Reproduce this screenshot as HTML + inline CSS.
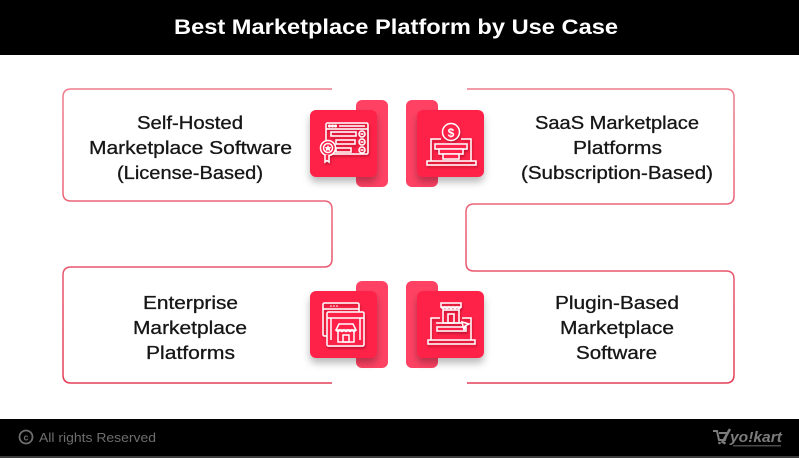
<!DOCTYPE html>
<html><head><meta charset="utf-8"><style>
html,body{margin:0;padding:0;background:#fff;}
svg{display:block;}
</style></head><body>
<svg width="799" height="458" viewBox="0 0 799 458" xmlns="http://www.w3.org/2000/svg">
<defs>
<filter id="sh" x="-30%" y="-30%" width="160%" height="170%">
<feDropShadow dx="0" dy="5" stdDeviation="4" flood-color="#000" flood-opacity="0.28"/>
</filter>
<filter id="ish" x="-30%" y="-30%" width="160%" height="160%">
<feDropShadow dx="1" dy="2" stdDeviation="1" flood-color="#7a0018" flood-opacity="0.45"/>
</filter>
<linearGradient id="lg" x1="0" y1="0" x2="0" y2="1">
<stop offset="0" stop-color="#ee7c8c"/>
<stop offset="1" stop-color="#e43e58"/>
</linearGradient>
</defs>
<rect x="0" y="0" width="799" height="458" fill="#fff"/>
<!-- header -->
<rect x="0" y="0" width="799" height="55" fill="#000"/>
<text x="396" y="34" text-anchor="middle" font-family="Liberation Sans, sans-serif" font-size="21" font-weight="bold" fill="#fff" textLength="444" lengthAdjust="spacingAndGlyphs">Best Marketplace Platform by Use Case</text>

<!-- outlines -->
<path d="M332,89 H71 Q63,89 63,97 V193 Q63,201 71,201 H324 Q332,201 332,209 V259 Q332,267 324,267 H71 Q63,267 63,275 V375 Q63,383 71,383 H332" fill="none" stroke="url(#lg)" stroke-width="1.5"/>
<path d="M467,89 H726 Q734,89 734,97 V196 Q734,204 726,204 H474 Q466,204 466,212 V263 Q466,271 474,271 H726 Q734,271 734,279 V375 Q734,383 726,383 H467" fill="none" stroke="url(#lg)" stroke-width="1.5"/>

<!-- texts -->
<g font-family="Liberation Sans, sans-serif" font-size="18.5" fill="#161616" stroke="#161616" stroke-width="0.3" text-anchor="middle">
<text x="190" y="129" textLength="106" lengthAdjust="spacingAndGlyphs">Self-Hosted</text>
<text x="190.5" y="154" textLength="203" lengthAdjust="spacingAndGlyphs">Marketplace Software</text>
<text x="190" y="179" textLength="146" lengthAdjust="spacingAndGlyphs">(License-Based)</text>

<text x="617" y="129" textLength="164" lengthAdjust="spacingAndGlyphs">SaaS Marketplace</text>
<text x="617.5" y="154" textLength="89" lengthAdjust="spacingAndGlyphs">Platforms</text>
<text x="617" y="179" textLength="192" lengthAdjust="spacingAndGlyphs">(Subscription-Based)</text>

<text x="190.5" y="309" textLength="95" lengthAdjust="spacingAndGlyphs">Enterprise</text>
<text x="190" y="334" textLength="114" lengthAdjust="spacingAndGlyphs">Marketplace</text>
<text x="190.5" y="359" textLength="89" lengthAdjust="spacingAndGlyphs">Platforms</text>

<text x="617" y="309" textLength="124" lengthAdjust="spacingAndGlyphs">Plugin-Based</text>
<text x="617" y="334" textLength="114" lengthAdjust="spacingAndGlyphs">Marketplace</text>
<text x="616.5" y="359" textLength="81" lengthAdjust="spacingAndGlyphs">Software</text>
</g>

<!-- icon back rects -->
<rect x="356" y="100" width="32" height="87" rx="6" fill="#ff4264"/>
<rect x="406" y="100" width="32" height="87" rx="6" fill="#ff4264"/>
<rect x="356" y="281" width="32" height="87" rx="6" fill="#ff4264"/>
<rect x="406" y="281" width="32" height="87" rx="6" fill="#ff4264"/>
<!-- icon front squares -->
<rect x="310" y="110" width="67" height="67" rx="6" fill="#fe2149" filter="url(#sh)"/>
<rect x="417" y="110" width="67" height="67" rx="6" fill="#fe2149" filter="url(#sh)"/>
<rect x="310" y="291" width="67" height="67" rx="6" fill="#fe2149" filter="url(#sh)"/>
<rect x="417" y="291" width="67" height="67" rx="6" fill="#fe2149" filter="url(#sh)"/>

<!-- icon 1: self-hosted -->
<g fill="none" stroke="#fff" stroke-width="1.5" filter="url(#ish)">
<rect x="326" y="123" width="42" height="31" rx="1.5"/>
<line x1="326" y1="129" x2="368" y2="129"/>
<circle cx="329.5" cy="126" r="0.8" fill="#fff"/>
<circle cx="332.5" cy="126" r="0.8" fill="#fff"/>
<circle cx="335.5" cy="126" r="0.8" fill="#fff"/>
<line x1="339" y1="126" x2="365" y2="126"/>
<rect x="331" y="132" width="25" height="4"/>
<rect x="336" y="140" width="19" height="4"/>
<rect x="336" y="148" width="15" height="4"/>
<circle cx="362" cy="134" r="3"/><line x1="360.5" y1="134" x2="363.5" y2="134"/>
<circle cx="362" cy="142" r="3"/><line x1="360.5" y1="142" x2="363.5" y2="142"/>
<circle cx="362" cy="150" r="3"/><line x1="360.5" y1="150" x2="363.5" y2="150"/>
<circle cx="328" cy="148" r="7.5" fill="#fe2149"/>
<circle cx="328" cy="148" r="4.5"/>
<polygon points="328,145.5 329,147.3 331,147.5 329.5,148.8 330,150.8 328,149.7 326,150.8 326.5,148.8 325,147.5 327,147.3" fill="#fff" stroke-width="0.5"/>
<path d="M325,155 V162 L327,160.5 L329,162 V155" fill="#fe2149"/>
</g>

<!-- icon 2: SaaS -->
<g fill="none" stroke="#fff" stroke-width="1.5" filter="url(#ish)">
<path d="M441,139 H431 V161 M461,139 H471 V161"/>
<rect x="427" y="161" width="49" height="4"/>
<rect x="435" y="144" width="32" height="5" fill="#fe2149"/>
<rect x="439" y="149" width="24" height="5" fill="#fe2149"/>
<rect x="443" y="154" width="16" height="5" fill="#fe2149"/>
<circle cx="451" cy="132" r="8.5" fill="#fe2149"/>
</g>
<text x="451" y="137" text-anchor="middle" font-family="Liberation Sans, sans-serif" font-size="12" font-weight="bold" fill="#fff">$</text>

<!-- icon 3: enterprise -->
<g fill="none" stroke="#fff" stroke-width="1.5" filter="url(#ish)">
<rect x="323" y="303" width="36" height="33" rx="1.5"/>
<line x1="323" y1="309" x2="359" y2="309"/>
<rect x="327" y="312" width="37" height="34" rx="1.5" fill="#fe2149"/>
<line x1="327" y1="318" x2="364" y2="318"/>
<line x1="331" y1="318" x2="331" y2="340"/>
<line x1="360" y1="318" x2="360" y2="340"/>
<path d="M336,330 L339,324 H353 L356,330 Z"/>
<path d="M336,330 Q338,333 340,330 Q342,333 344,330 Q346,333 348,330 Q350,333 352,330 Q354,333 356,330"/>
<path d="M338,332 V342 H354 V332"/>
<rect x="343" y="335" width="6" height="7"/>
</g>
<g fill="#fff">
<circle cx="331" cy="306" r="0.8"/><circle cx="334" cy="306" r="0.8"/><circle cx="337" cy="306" r="0.8"/>
</g>

<!-- icon 4: plugin -->
<g fill="none" stroke="#fff" stroke-width="1.5" filter="url(#ish)">
<path d="M440,318 H431 V340 M462,318 H471 V340"/>
<rect x="428" y="340" width="47" height="4"/>
<rect x="441" y="303" width="20" height="4"/>
<path d="M441,307 Q443,310 445,307 Q447,310 449,307 Q451,310 453,307 Q455,310 457,307 Q459,310 461,307"/>
<rect x="443" y="310" width="16" height="13"/>
<rect x="448" y="314" width="6" height="9"/>
<rect x="437" y="327" width="29" height="4" fill="#fe2149"/>
<path d="M436,323 H466"/>
<polygon points="462,322 469,324 465,326 464,330" fill="#fe2149"/>
</g>

<!-- footer -->
<rect x="0" y="419" width="799" height="37" fill="#000"/>
<rect x="0" y="456" width="799" height="2" fill="#3c3c3c"/>
<circle cx="26" cy="437" r="6.5" fill="none" stroke="#6e6e6e" stroke-width="1.8"/>
<text x="26" y="440.5" text-anchor="middle" font-family="Liberation Sans, sans-serif" font-size="9" font-weight="bold" fill="#6e6e6e">c</text>
<text x="39" y="442" font-family="Liberation Sans, sans-serif" font-size="13" fill="#6e6e6e" textLength="117" lengthAdjust="spacingAndGlyphs">All rights Reserved</text>
<!-- yolkart logo -->
<g fill="#7c7c7c">
<path d="M713,431 H717 L719,440 H725 L727,433 H719" fill="none" stroke="#7c7c7c" stroke-width="2"/>
<circle cx="719.5" cy="443" r="1.3"/><circle cx="724.5" cy="443" r="1.3"/>
<path d="M722,443 L730,429" stroke="#7c7c7c" stroke-width="2.5"/>
<text x="730" y="442" font-family="Liberation Sans, sans-serif" font-size="15" font-weight="bold" font-style="italic" textLength="52" lengthAdjust="spacingAndGlyphs">yo!kart</text>
<rect x="733" y="445" width="48" height="1.5" opacity="0.6"/>
</g>
</svg>
</body></html>
